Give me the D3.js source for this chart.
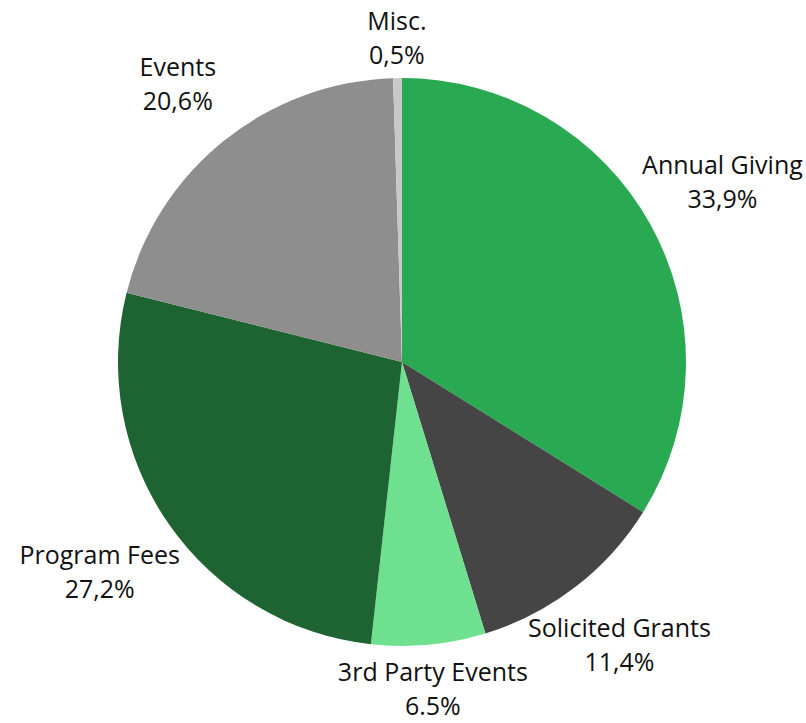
<!DOCTYPE html>
<html>
<head>
<meta charset="utf-8">
<script src="https://cdn.jsdelivr.net/npm/d3@7"></script>
<style>
  body { margin: 0; background: #fff; }
  svg text { font-family: "Open Sans", "Noto Sans", sans-serif; fill: #111; }
</style>
</head>
<body>
<div id="chart"></div>
<script>
const categories = ['Annual Giving', 'Solicited Grants', '3rd Party Events', 'Program Fees', 'Events', 'Misc.'];
const shares = [33.9, 11.4, 6.5, 27.2, 20.6, 0.5];
const shareLabels = ['33,9%', '11,4%', '6.5%', '27,2%', '20,6%', '0,5%'];
const sliceColors = ['#2aa953', '#454545', '#6ee08f', '#1d6432', '#8e8e8e', '#c8c8c8'];

const width = 806;
const height = 723;
const cx = 402;
const cy = 362;
const radius = 284;
// label centres sit on a widened ring around the pie
const labelRadius = 323;
const labelSpread = 55;
const fontSize = 25;
const lineHeight = 34;
const capHeight = fontSize * 0.72;
const edge = 3;

const svg = d3
  .select('#chart')
  .append('svg')
  .attr('width', width)
  .attr('height', height);

const g = svg.append('g').attr('transform', `translate(${cx},${cy})`);

const data = categories.map((name, i) => ({ name, value: shares[i], label: shareLabels[i] }));

const pie = d3
  .pie()
  .sort(null)
  .value((d) => d.value);

const arc = d3.arc().innerRadius(0).outerRadius(radius);

const arcs = pie(data);

g.selectAll('path')
  .data(arcs)
  .join('path')
  .attr('d', arc)
  .attr('fill', (d, i) => sliceColors[i]);

const labels = g
  .selectAll('text.label')
  .data(arcs)
  .join('text')
  .attr('class', 'label')
  .attr('text-anchor', 'middle')
  .style('font-size', `${fontSize}px`);

labels
  .append('tspan')
  .attr('x', 0)
  .attr('dy', 0)
  .text((d) => d.data.name);

labels
  .append('tspan')
  .attr('x', 0)
  .attr('dy', lineHeight)
  .text((d) => d.data.label);

labels.each(function (d) {
  const w = this.getBBox().width;
  const h = lineHeight + capHeight; // cap top of line 1 to baseline of line 2
  const a = (d.startAngle + d.endAngle) / 2;
  const s = Math.sin(a);
  const c = -Math.cos(a);
  const dist = labelRadius + labelSpread * Math.abs(s);
  let bx = cx + dist * s;
  let by = cy + dist * c;
  // keep the label box inside the picture
  bx = Math.max(edge + w / 2, Math.min(width - edge - w / 2, bx));
  by = Math.max(edge + 6 + h / 2, Math.min(height - edge - h / 2, by));
  const oy = (lineHeight - capHeight) / 2;
  d3.select(this).attr('transform', `translate(${bx - cx},${by - cy - oy})`);
});
</script>
</body>
</html>
